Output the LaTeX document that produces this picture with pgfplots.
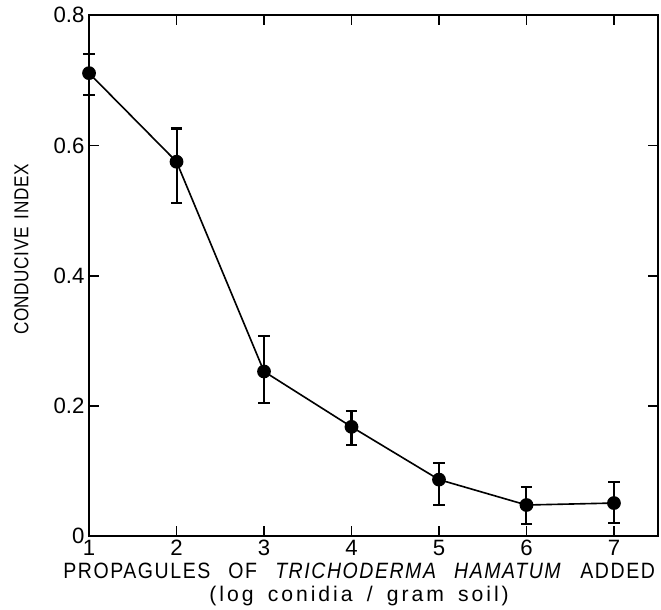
\documentclass[border=0pt]{standalone}
\usepackage{pgfplots}
\pgfplotsset{compat=1.18}
\usepackage{fontspec}
\setmainfont{Liberation Sans}
\newfontfamily\capsfont[FakeStretch=0.88, LetterSpace=7, WordSpace=2.6]{Liberation Sans}
\newfontfamily\lowfont[LetterSpace=14, WordSpace=1.6]{Liberation Sans}
\newfontfamily\ylabfont[FakeStretch=0.85, LetterSpace=3, WordSpace=1.5]{Liberation Sans}
\begin{document}
\begin{tikzpicture}
\begin{axis}[
  scale only axis,
  width=562bp, height=515bp,
  xmin=1, xmax=7.5, ymin=0, ymax=0.8,
  xtick={1,2,3,4,5,6,7},
  ytick={0,0.2,0.4,0.6,0.8},
  yticklabels={0,0.2,0.4,0.6,0.8},
  tick align=inside,
  major tick length=10bp,
  tick style={line width=1.8bp, black},
  axis line style={line width=2bp},
  ticklabel style={font=\fontsize{22}{24}\selectfont},
  /pgf/number format/assume math mode=true,
  yticklabel style={xshift=-1bp},
  xlabel={\begin{tabular}{c}{\capsfont\fontsize{22}{24}\selectfont PROPAGULES OF \textit{TRICHODERMA HAMATUM} ADDED}\\[-1bp] {\lowfont (log conidia / gram soil)}\end{tabular}},
  xlabel style={at={(axis description cs:0.475,0)}, anchor=north, inner sep=0pt, yshift=-25bp, font=\fontsize{21}{24}\selectfont},
  ylabel={\ylabfont\fontsize{20}{24}\selectfont CONDUCIVE INDEX},
  ylabel style={at={(ticklabel cs:0.55)}, yshift=18bp},
  clip=false,
]
\addplot[black, line width=1.6bp, mark=*, mark size=6bp,
  error bars/.cd, y dir=both, y explicit,
  error bar style={line width=2bp},
  error mark options={rotate=90, mark size=5.5bp, line width=2bp}]
  table[x=x, y=y, y error plus=ep, y error minus=em] {
x y ep em
1 0.711 0.030 0.034
2 0.575 0.051 0.063
3 0.253 0.054 0.048
4 0.168 0.025 0.028
5 0.087 0.025 0.039
6 0.048 0.027 0.029
7 0.051 0.033 0.031
};
\end{axis}
\path (current axis.south west) ++(-88bp,0pt);
\path (current axis.north west) ++(0pt,15bp);
\end{tikzpicture}
\end{document}
